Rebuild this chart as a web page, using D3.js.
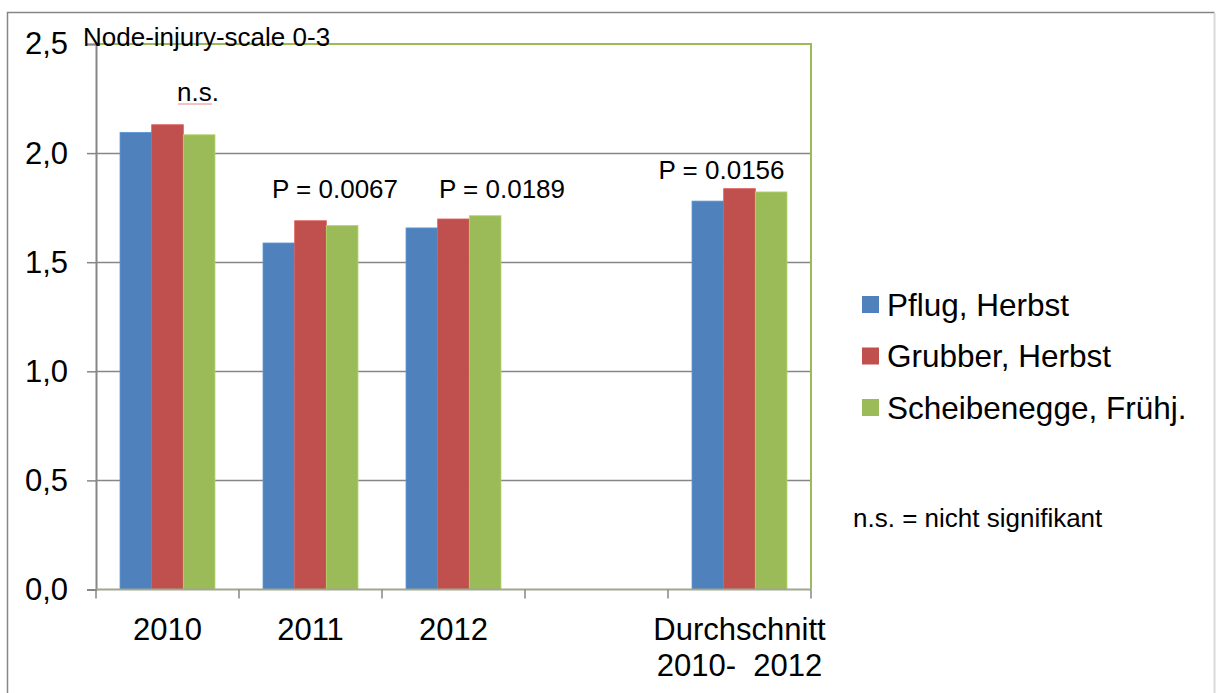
<!DOCTYPE html>
<html>
<head>
<meta charset="utf-8">
<script src="https://cdn.jsdelivr.net/npm/d3@7"></script>
<style>
  body { margin: 0; background: #fff; }
  text { font-family: "Liberation Sans", Arial, sans-serif; fill: #000; }
</style>
</head>
<body>
<div id="chart"></div>
<script>
// chart data
var categories = ["2010", "2011", "2012", "", "Durchschnitt\n2010-  2012"]
var series = ["Pflug, Herbst", "Grubber, Herbst", "Scheibenegge, Frühj."]
var pflug = [2.095, 1.588, 1.657, null, 1.78]
var grubber = [2.13, 1.69, 1.698, null, 1.837]
var scheibe = [2.084, 1.668, 1.713, null, 1.822]
var pLabels = ["n.s.", "P = 0.0067", "P = 0.0189", "", "P = 0.0156"]
var yTicks = [0, 0.5, 1.0, 1.5, 2.0, 2.5]
var colors = ["#4F81BD", "#C0504D", "#9BBB59"]

var width = 1216
var height = 693
var plot = {left: 96, top: 44, right: 811, bottom: 589.5}

var svg = d3.select("#chart")
  .append("svg")
  .attr("width", width)
  .attr("height", height)

// outer frame
svg.append("path")
  .attr("d", "M7.5," + height + " V12.5 H1214.5")
  .attr("fill", "none")
  .attr("stroke", "#868686")
  .attr("stroke-width", 1.5)
svg.append("line")
  .attr("x1", 1214.5).attr("x2", 1214.5).attr("y1", 13).attr("y2", height)
  .attr("stroke", "#d9d9d9").attr("stroke-width", 2)

var x0 = d3.scaleBand()
  .domain(d3.range(categories.length))
  .range([plot.left, plot.right])
  .paddingInner(0.336)
  .paddingOuter(0.168)

var x1 = d3.scaleBand()
  .domain(d3.range(series.length))
  .range([0, x0.bandwidth()])

var y = d3.scaleLinear()
  .domain([0, 2.5])
  .range([plot.bottom, plot.top])

// gridlines
svg.append("g")
  .selectAll("line")
  .data(yTicks.filter(function(d) { return d > 0 && d < 2.5 }))
  .enter()
  .append("line")
  .attr("x1", plot.left).attr("x2", plot.right)
  .attr("y1", function(d) { return Math.round(y(d)) + 0.5 })
  .attr("y2", function(d) { return Math.round(y(d)) + 0.5 })
  .attr("stroke", "#868686")
  .attr("stroke-width", 1.5)

// plot area border (top + right, green)
svg.append("path")
  .attr("d", "M" + plot.left + "," + (y(2.5)) + " H" + plot.right + " V" + plot.bottom)
  .attr("fill", "none")
  .attr("stroke", "#9BBB59")
  .attr("stroke-width", 2)

// bars
var values = [pflug, grubber, scheibe]
var groups = svg.append("g")
  .selectAll("g")
  .data(categories.map(function(c, i) { return i }))
  .enter()
  .append("g")
  .attr("transform", function(i) { return "translate(" + x0(i) + ",0)" })

groups.selectAll("rect")
  .data(function(i) {
    return values.map(function(v, s) { return {s: s, v: v[i]} }).filter(function(d) { return d.v != null })
  })
  .enter()
  .append("rect")
  .attr("x", function(d) { return x1(d.s) })
  .attr("width", x1.bandwidth())
  .attr("y", function(d) { return y(d.v) })
  .attr("height", function(d) { return plot.bottom - y(d.v) })
  .attr("fill", function(d) { return colors[d.s] })
  .attr("stroke", function(d) { return d3.color(colors[d.s]).brighter(0.4) })
  .attr("stroke-width", 0.8)

// y axis
var yAxis = svg.append("g")
  .attr("transform", "translate(" + plot.left + ",0)")
  .call(d3.axisLeft(y).tickValues(yTicks).tickSize(9).tickPadding(19)
    .tickFormat(function(d) { return d3.format(".1f")(d).replace(".", ",") }))
yAxis.select(".domain").attr("stroke", "#868686").attr("stroke-width", 2)
yAxis.selectAll(".tick line").attr("stroke", "#868686").attr("stroke-width", 1.5)
yAxis.selectAll(".tick text")
  .attr("font-size", "31px")
  .attr("font-family", "Liberation Sans, Arial, sans-serif")
  .attr("fill", "#000")

// x axis
var xAxis = svg.append("g")
  .attr("transform", "translate(0," + plot.bottom + ")")
xAxis.append("line")
  .attr("x1", plot.left).attr("x2", plot.right)
  .attr("stroke", "#a0a890").attr("stroke-width", 2)
xAxis.selectAll(".xt")
  .data(d3.range(categories.length + 1))
  .enter()
  .append("line")
  .attr("x1", function(i) { return plot.left + i * x0.step() })
  .attr("x2", function(i) { return plot.left + i * x0.step() })
  .attr("y1", 0).attr("y2", 9)
  .attr("stroke", "#868686").attr("stroke-width", 1.5)

xAxis.selectAll(".xl")
  .data(categories)
  .enter()
  .append("text")
  .attr("text-anchor", "middle")
  .attr("font-size", "31px")
  .attr("transform", function(d, i) { return "translate(" + (x0(i) + x0.bandwidth() / 2) + ",0)" })
  .each(function(d) {
    var lines = d.split("\n")
    var t = d3.select(this)
    lines.forEach(function(l, k) {
      t.append("tspan").attr("x", 0).attr("y", 50 + k * 36).attr("xml:space", "preserve").text(l)
    })
  })

// significance labels
var pShift = [30.5, 24.5, 48.5, 0, -18]
svg.append("g")
  .selectAll("text")
  .data(pLabels)
  .enter()
  .append("text")
  .attr("text-anchor", "middle")
  .attr("font-size", "26px")
  .attr("x", function(d, i) { return x0(i) + x0.bandwidth() / 2 + pShift[i] })
  .attr("y", function(d, i) { return i == 0 ? 101 : i == 4 ? 179 : 198 })
  .text(function(d) { return d })

// spellcheck squiggle under n.s.
svg.append("line")
  .attr("x1", 178).attr("x2", 212).attr("y1", 104).attr("y2", 104)
  .attr("stroke", "#f08080").attr("stroke-width", 1)

// y axis title
svg.append("text")
  .attr("x", 83)
  .attr("y", 45.5)
  .attr("font-size", "26px")
  .text("Node-injury-scale 0-3")

// legend
var legend = svg.append("g")
  .selectAll("g")
  .data(series)
  .enter()
  .append("g")
  .attr("transform", function(d, i) { return "translate(862," + (296 + i * 51.5) + ")" })
legend.append("rect")
  .attr("width", 17).attr("height", 17)
  .attr("fill", function(d, i) { return colors[i] })
legend.append("text")
  .attr("x", 25)
  .attr("y", 19.5)
  .attr("font-size", "31.5px")
  .text(function(d) { return d })

svg.append("text")
  .attr("x", 853)
  .attr("y", 527)
  .attr("font-size", "26px")
  .text("n.s. = nicht signifikant")
</script>
</body>
</html>
